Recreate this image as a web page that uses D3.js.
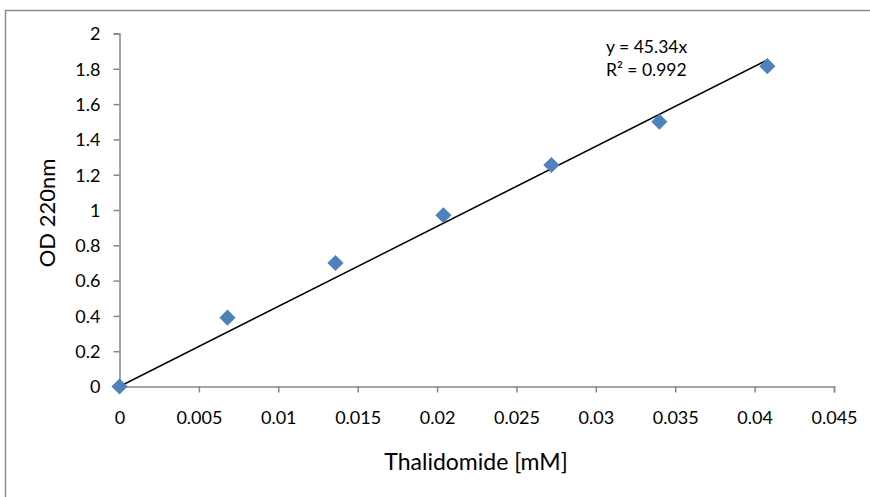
<!DOCTYPE html>
<html><head><meta charset="utf-8">
<script src="https://cdn.jsdelivr.net/npm/d3@7"></script>
<style>body{margin:0;background:#fff;} svg{display:block;font-family:Lato,"Open Sans",sans-serif;}</style>
</head><body>
<script>
const xValues = [0, 0.0068, 0.0136, 0.0204, 0.0272, 0.034, 0.0408];
const yValues = [0, 0.39, 0.70, 0.97, 1.255, 1.50, 1.815];
const xTicks = [0, 0.005, 0.01, 0.015, 0.02, 0.025, 0.03, 0.035, 0.04, 0.045];
const yTicks = [0, 0.2, 0.4, 0.6, 0.8, 1, 1.2, 1.4, 1.6, 1.8, 2];
const slope = 45.34;
const eqLines = ["y = 45.34x", "R² = 0.992"];
const xTitle = "Thalidomide [mM]";
const yTitle = "OD 220nm";

const W = 870, H = 497;
const svg = d3.select("body").append("svg").attr("width", W).attr("height", H);
svg.append("rect").attr("x", 5.5).attr("y", 10.5).attr("width", 1000).attr("height", 700)
  .attr("fill", "none").attr("stroke", "#8c8c8c").attr("stroke-width", 1.5);

const x = d3.scaleLinear().domain([0, 0.045]).range([119.5, 834]);
const y = d3.scaleLinear().domain([0, 2]).range([386.5, 33.5]);

const gx = svg.append("g").attr("transform", "translate(0,386.5)")
  .call(d3.axisBottom(x).tickValues(xTicks).tickFormat(d => d3.format("")(+d.toFixed(3))).tickSize(6).tickPadding(19));
const gy = svg.append("g").attr("transform", "translate(119.5,0)")
  .call(d3.axisLeft(y).tickValues(yTicks).tickFormat(d => d3.format("")(+d.toFixed(1))).tickSize(6).tickPadding(13));
[gx, gy].forEach(g => {
  g.select(".domain").attr("stroke", "#868686").attr("stroke-width", 1.5);
  g.selectAll(".tick line").attr("stroke", "#868686").attr("stroke-width", 1.5);
  g.selectAll(".tick text").attr("fill", "#000").style("font-size", "18px").style("font-family", "Lato");
});
gy.selectAll(".tick text").attr("dy", "0.35em");

// trendline
const xEnd = xValues[xValues.length - 1];
svg.append("line").attr("x1", x(0)).attr("y1", y(0)).attr("x2", x(xEnd)).attr("y2", y(slope * xEnd))
  .attr("stroke", "#000").attr("stroke-width", 1.5);

// points
svg.append("g").selectAll("path").data(xValues.map((v, i) => [v, yValues[i]])).join("path")
  .attr("d", d3.symbol().type(d3.symbolSquare).size(130))
  .attr("transform", d => `translate(${x(d[0])},${y(d[1])}) rotate(45)`)
  .attr("fill", "#4f81bd");

// equation
svg.append("g").selectAll("text").data(eqLines).join("text")
  .attr("x", 606).attr("y", (d, i) => 53 + i * 23)
  .style("font-size", "17.5px").attr("fill", "#000").text(d => d);

svg.append("text").attr("x", 476).attr("y", 470).attr("text-anchor", "middle")
  .style("font-size", "23px").attr("fill", "#000").text(xTitle);
svg.append("text").attr("transform", "translate(55,213) rotate(-90)").attr("text-anchor", "middle")
  .style("font-size", "22px").attr("fill", "#000").text(yTitle);
</script>
</body></html>
